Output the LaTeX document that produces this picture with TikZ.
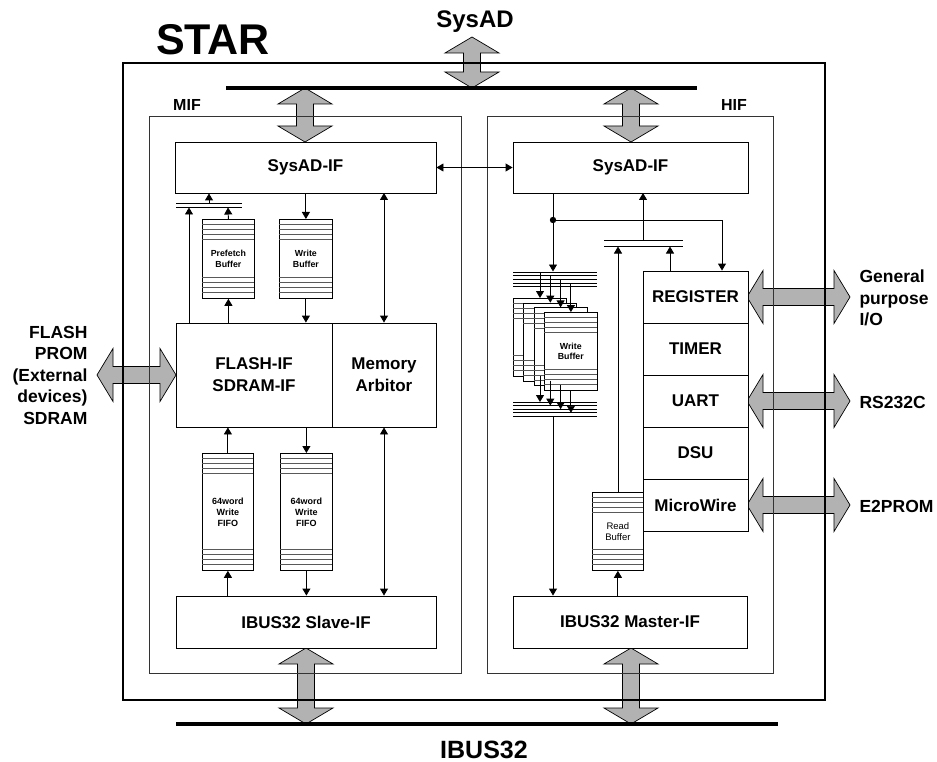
\documentclass[tikz,border=0pt]{standalone}
\usepackage{fontspec}
\setmainfont{Liberation Sans}
\usetikzlibrary{arrows.meta,calc}
\newcommand\GV[3]{% vertical gray double arrow at x=#1 from y=#2 (top) to y=#3 (bottom)
  \filldraw[garrow] (#1,#2) -- (#1+27,#2+16) -- (#1+8.5,#2+16) -- (#1+8.5,#3-16) -- (#1+27,#3-16) -- (#1,#3)
    -- (#1-27,#3-16) -- (#1-8.5,#3-16) -- (#1-8.5,#2+16) -- (#1-27,#2+16) -- cycle;}
\newcommand\GH[3]{% horizontal gray double arrow at y=#1 from x=#2 (left) to x=#3 (right)
  \filldraw[garrow] (#2,#1) -- (#2+16,#1-26.5) -- (#2+16,#1-8.5) -- (#3-16,#1-8.5) -- (#3-16,#1-26.5) -- (#3,#1)
    -- (#3-16,#1+26.5) -- (#3-16,#1+8.5) -- (#2+16,#1+8.5) -- (#2+16,#1+26.5) -- cycle;}
\newcommand\buf[7]{% name, left, top, width, height, text, font
  \node[bufbox, minimum width=#4pt, minimum height=#5pt, font=#7] (#1) at (#2,#3) {#6};
  \foreach \d in {5.5,10.5,15.5,20.5} {
    \draw[stripe] (#2,#3+\d) -- ++(#4,0);
    \draw[stripe] (#2,#3+#5-\d) -- ++(#4,0);}
}
\begin{document}
\begin{tikzpicture}[x=1pt,y=-1pt,
  box/.style={draw,line width=0.9pt,fill=white,inner sep=0pt,align=center,
    font=\bfseries\fontsize{17}{22}\selectfont},
  bufbox/.style={draw,line width=0.8pt,fill=white,inner sep=0pt,align=center,anchor=north west},
  frame/.style={draw=black!80,line width=0.8pt},
  arr/.style={line width=0.9pt,-{Triangle[length=7pt,width=8pt]}},
  darr/.style={line width=0.9pt,{Triangle[length=7pt,width=8pt]}-{Triangle[length=7pt,width=8pt]}},
  garrow/.style={draw=black,line width=0.7pt,fill=black!30},
  stripe/.style={draw=black!65,line width=0.6pt},
  thinbus/.style={line width=0.9pt},
  lbl/.style={font=\bfseries\fontsize{17.5}{21.5}\selectfont}
]
\useasboundingbox (0,0) rectangle (937,762);

% ---- big gray arrows (drawn first, frames run over them)
\GV{472}{37}{88}
\GV{305}{88}{142}
\GV{631}{88}{142}
\GV{306}{648}{724}
\GV{631}{648}{724}
\GH{375}{97}{176}
\GH{297}{747}{850}
\GH{401}{747}{850}
\GH{505}{747}{850}

% ---- buses
\draw[line width=4pt] (226,88) -- (697,88);
\draw[line width=4pt] (176,724) -- (778,724);

% ---- frames
\draw[line width=2pt] (123,63) rectangle (825,700);
\draw[frame] (149,116) rectangle (461,673);
\draw[frame] (487,116) rectangle (773,673);

% ---- titles and labels
\node[font=\bfseries\fontsize{43}{47}\selectfont] (star) at (213,40) {STAR};
\node[font=\bfseries\fontsize{24}{27}\selectfont] (sysad) at (475,22) {SysAD};
\node[font=\bfseries\fontsize{25}{28}\selectfont] (ibus) at (484,750) {IBUS32};
\node[font=\bfseries\fontsize{16}{19}\selectfont] (mif) at (187,105) {MIF};
\node[font=\bfseries\fontsize{16}{19}\selectfont] (hif) at (734,105) {HIF};
\node[lbl,anchor=east,align=right] (ext) at (91,375) {FLASH\\PROM\\(External\\devices)\\SDRAM};
\node[lbl,anchor=west,align=left] (gpio) at (856,298) {General\\purpose\\I/O};
\node[lbl,anchor=west] (rs) at (856,402) {RS232C};
\node[lbl,anchor=west] (e2) at (856,506) {E2PROM};

% ---- main boxes
\node[box,minimum width=261pt,minimum height=51pt] (sysL) at (305.5,167.5) {SysAD-IF};
\node[box,minimum width=235pt,minimum height=51pt] (sysR) at (630.5,167.5) {SysAD-IF};
\node[box,minimum width=156pt,minimum height=104pt] (flash) at (254,375) {FLASH-IF\\SDRAM-IF};
\node[box,minimum width=104pt,minimum height=104pt] (arb) at (384,375) {Memory\\Arbitor};
\node[box,minimum width=260pt,minimum height=52pt] (slave) at (306,622) {IBUS32 Slave-IF};
\node[box,minimum width=234pt,minimum height=52pt] (master) at (630,622) {IBUS32 Master-IF};
\node[box,minimum width=105pt,minimum height=52pt] (reg) at (695.5,297) {REGISTER};
\node[box,minimum width=105pt,minimum height=52pt] (timer) at (695.5,349) {TIMER};
\node[box,minimum width=105pt,minimum height=52pt] (uart) at (695.5,401) {UART};
\node[box,minimum width=105pt,minimum height=52pt] (dsu) at (695.5,453) {DSU};
\node[box,minimum width=105pt,minimum height=52pt] (mw) at (695.5,505) {MicroWire};

% ---- MIF buffers
\buf{pre}{202}{219}{52}{79}{Prefetch\\Buffer}{\bfseries\fontsize{8.8}{10.5}\selectfont}
\buf{wbL}{279}{219}{53}{79}{Write\\Buffer}{\bfseries\fontsize{8.8}{10.5}\selectfont}
\buf{fifoA}{202}{453}{51}{117}{64word\\Write\\FIFO}{\bfseries\fontsize{9}{11}\selectfont}
\buf{fifoB}{280}{453}{52}{117}{64word\\Write\\FIFO}{\bfseries\fontsize{9}{11}\selectfont}

% ---- HIF buffers
\buf{wb0}{513}{298}{53}{78}{}{\bfseries}
\buf{wb1}{523.3}{302.7}{53}{78}{}{\bfseries}
\buf{wb2}{533.6}{307.4}{53}{78}{}{\bfseries}
\buf{wb3}{543.9}{312.1}{53}{78}{Write\\Buffer}{\bfseries\fontsize{8.8}{10.5}\selectfont}
\buf{rb}{592}{492}{51}{78}{Read\\Buffer}{\fontsize{9.5}{11.5}\selectfont}

% ---- MIF connectors
\draw[thinbus] (176,203) -- (242,203);
\draw[thinbus] (176,207) -- (242,207);
\coordinate (busL) at (209,203);
\draw[arr] (busL) -- (busL |- sysL.south);
\draw[arr] (189,323) -- (189,207.5);
\draw[arr] (pre.north) -- (228,207.5);
\draw[arr] (pre.south |- flash.north) -- (pre.south);
\draw[arr] (wbL.north |- sysL.south) -- (wbL.north);
\draw[arr] (wbL.south) -- (wbL.south |- flash.north);
\draw[darr] (384,193) -- (arb.north);
\draw[arr] (fifoA.north) -- (fifoA.north |- flash.south);
\draw[arr] (fifoA.south |- slave.north) -- (fifoA.south);
\draw[arr] (fifoB.north |- flash.south) -- (fifoB.north);
\draw[arr] (fifoB.south) -- (fifoB.south |- slave.north);
\draw[darr] (arb.south) -- (arb.south |- slave.north);
\draw[darr] (sysL.east) -- (sysR.west);

% ---- HIF connectors
\coordinate (dot) at (553,220);
\coordinate (wbbot) at (553,416.4);
\coordinate (rbbus) at (618,246.5);
\draw[thinbus] (dot |- sysR.south) -- (dot);
\fill (dot) circle (3.2);
\draw[arr] (dot) -- (722,220) -- (reg.north -| 722,0);
\draw[arr] (dot) -- (553,271.5);
\foreach \k in {0,...,4} {
  \draw[thinbus] (513,272+3.7*\k) -- (597,272+3.7*\k);
  \draw[thinbus] (513,402+3.6*\k) -- (597,402+3.6*\k);
}
\foreach \k in {0,...,3} {
  \draw[arr] (540+10.3*\k,272+3.7*\k) -- (540+10.3*\k,298+4.7*\k);
  \draw[arr] (540+10.3*\k,376+4.7*\k) -- (540+10.3*\k,402+3.6*\k);
}
\draw[arr] (wbbot) -- (wbbot |- master.north);
\draw[thinbus] (604,240) -- (683,240);
\draw[thinbus] (604,246) -- (683,246);
\draw[arr] (643,240) -- (643,193);
\draw[arr] (rbbus |- rb.north) -- (rbbus);
\draw[arr] (670,271) -- (670,246.5);
\draw[arr] (rb.south |- master.north) -- (rb.south);
\end{tikzpicture}
\end{document}
